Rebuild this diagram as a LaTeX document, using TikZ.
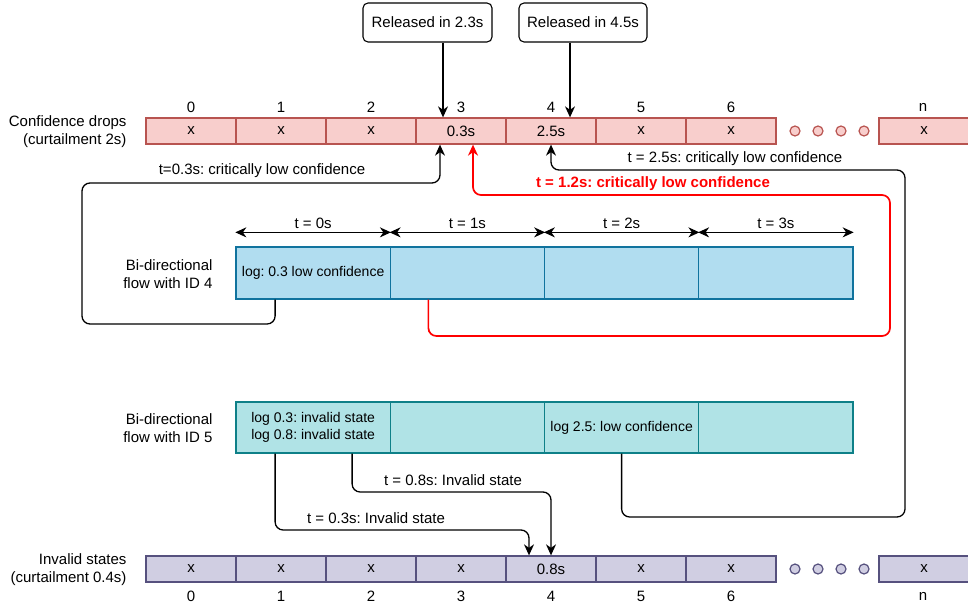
\documentclass[tikz,border=0pt]{standalone}
\usepackage{fontspec}
\setmainfont{Liberation Sans}
\usetikzlibrary{arrows.meta,calc}
\definecolor{redfill}{HTML}{F8CECC}
\definecolor{redline}{HTML}{B85450}
\definecolor{bluefill}{HTML}{B1DDF0}
\definecolor{blueline}{HTML}{10739E}
\definecolor{tealfill}{HTML}{B0E3E6}
\definecolor{tealline}{HTML}{0E8088}
\definecolor{purpfill}{HTML}{D0CEE2}
\definecolor{purpline}{HTML}{56517E}
\definecolor{brightred}{HTML}{FF0000}
\tikzset{
  txt/.style={font=\fontsize{15}{18}\selectfont\frenchspacing},
  smalltxt/.style={font=\fontsize{14}{17}\selectfont\frenchspacing},
  redcell/.style={draw=redline, fill=redfill, line width=1.3pt, minimum width=90pt, minimum height=26pt, inner sep=0pt, txt},
  purpcell/.style={draw=purpline, fill=purpfill, line width=1.3pt, minimum width=90pt, minimum height=26pt, inner sep=0pt, txt},
  bluecell/.style={draw=blueline, fill=bluefill, line width=1.3pt, minimum width=154.25pt, minimum height=52pt, inner sep=0pt, smalltxt},
  tealcell/.style={draw=tealline, fill=tealfill, line width=1.3pt, minimum width=154.25pt, minimum height=51pt, inner sep=0pt, smalltxt, align=center},
  relbox/.style={draw, rounded corners=5pt, line width=1.1pt, minimum height=39pt, inner sep=0pt, txt},
  tip/.style={-{Stealth[length=11pt,width=10pt,inset=3.5pt]}},
  conn/.style={tip, line width=1.3pt, rounded corners=8pt},
  dim/.style={{Stealth[length=11pt,width=10pt,inset=3.5pt]}-{Stealth[length=11pt,width=10pt,inset=3.5pt]}, line width=1.1pt},
  lbl/.style={txt, align=right, anchor=east},
}
\begin{document}
\begin{tikzpicture}[x=1pt,y=-1pt]
\useasboundingbox (0,0) rectangle (968,607);

% Released boxes
\node[relbox, minimum width=129pt] (r1) at (427.5,22.5) {Released in 2.3s};
\node[relbox, minimum width=128pt] (r2) at (583,22.5) {Released in 4.5s};

% top row
\foreach \i/\t in {0/x,1/x,2/x,3/0.3s,4/2.5s,5/x,6/x}{
  \node[redcell] (c\i) at (191+90*\i,131) {\t};
  \node[txt] (ci\i) at (191+90*\i,107) {\i};
}
\node[redcell, minimum width=96pt] (cn) at (927,131) {\hspace*{-6pt}x};
\node[txt] (cin) at (923,107) {n};
\foreach \k/\xx in {1/795,2/818,3/841,4/864}{
  \node[circle, draw=redline, fill=redfill, line width=1.2pt, minimum size=10pt, inner sep=0pt] (cd\k) at (\xx,131) {};
}
\node[lbl] (lc) at (130,132) {Confidence drops\\(curtailment 2s)};

% bottom row
\foreach \i/\t in {0/x,1/x,2/x,3/x,4/0.8s,5/x,6/x}{
  \node[purpcell] (i\i) at (191+90*\i,569) {\t};
  \node[txt] (ii\i) at (191+90*\i,596) {\i};
}
\node[purpcell, minimum width=96pt] (in) at (927,569) {\hspace*{-6pt}x};
\node[txt] (iin) at (923,596) {n};
\foreach \k/\xx in {1/795,2/818,3/841,4/864}{
  \node[circle, draw=purpline, fill=purpfill, line width=1.2pt, minimum size=10pt, inner sep=0pt] (id\k) at (\xx,569) {};
}
\node[lbl] (li) at (130,570) {Invalid states\\(curtailment 0.4s)};

% flow 4
\node[bluecell] (f0) at (313.125,273) {log: 0.3 low confidence};
\node[bluecell] (f1) at (467.375,273) {};
\node[bluecell] (f2) at (621.625,273) {};
\node[bluecell] (f3) at (775.875,273) {};
\node[lbl] (lf4) at (216,274) {Bi-directional\\flow with ID 4};

% time arrows
\foreach \i/\t in {0/0s,1/1s,2/2s,3/3s}{
  \draw[dim] ([yshift=14pt]f\i.north west) -- ([yshift=14pt]f\i.north east)
     node[midway, above=0pt, txt] (tl\i) {t = \t};
}

% flow 5
\node[tealcell] (g0) at (313.125,427.5) {log 0.3: invalid state\\log 0.8: invalid state};
\node[tealcell] (g1) at (467.375,427.5) {};
\node[tealcell] (g2) at (621.625,427.5) {log 2.5: low confidence};
\node[tealcell] (g3) at (775.875,427.5) {};
\node[lbl] (lf5) at (216,428) {Bi-directional\\flow with ID 5};

% released arrows
\draw[tip, line width=1.3pt] ([xshift=15.5pt]r1.south) -- ([xshift=15.5pt]r1.south |- c3.north);
\draw[tip, line width=1.3pt] ([xshift=-13pt]r2.south) -- ([xshift=-13pt]r2.south |- c4.north);

% t=0.3s critically low
\draw[conn] ([xshift=-38pt]f0.south) -- ([xshift=-38pt]f0.south |- 0,324) -- (82,324) -- (82,183)
   -- ([xshift=-21pt]c3.south |- 0,183) -- ([xshift=-21pt]c3.south);
\node[txt] (l03) at (262,171) {t=0.3s: critically low confidence};

% red t=1.2s
\draw[conn, brightred, line width=1.7pt] ([xshift=-39pt]f1.south) -- ([xshift=-39pt]f1.south |- 0,336) -- (890,336) -- (890,195)
   -- ([xshift=12pt]c3.south |- 0,195) -- ([xshift=12pt]c3.south);
\node[txt, text=brightred, font=\fontsize{15}{18}\selectfont\bfseries\frenchspacing] (l12) at (653,184) {t = 1.2s: critically low confidence};

% t=2.5s
\draw[conn] (g2.south) -- (g2.south |- 0,517) -- (905,517) -- (905,170) -- (c4.south |- 0,170) -- (c4.south);
\node[txt] (l25) at (735,159) {t = 2.5s: critically low confidence};

% invalid state arrows
\draw[conn] ([xshift=-38pt]g0.south) -- ([xshift=-38pt]g0.south |- 0,530) -- ([xshift=-22pt]i4.north |- 0,530) -- ([xshift=-22pt]i4.north);
\node[txt] (lv03) at (376,518) {t = 0.3s: Invalid state};
\draw[conn] ([xshift=39pt]g0.south) -- ([xshift=39pt]g0.south |- 0,492) -- (i4.north |- 0,492) -- (i4.north);
\node[txt] (lv08) at (453,480) {t = 0.8s: Invalid state};
\end{tikzpicture}
\end{document}
